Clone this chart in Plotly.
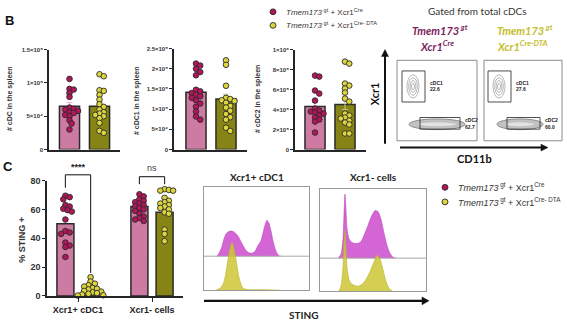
import plotly.graph_objects as go

W, H = 567, 332
FONT = "Liberation Sans, Arial, sans-serif"
CAL = "Lato, Open Sans, sans-serif"

# ---------------- data ----------------
genotypes = ["<i>Tmem173</i><sup> gt</sup> + Xcr1<sup>Cre</sup>",
             "<i>Tmem173</i><sup> gt</sup> + Xcr1<sup>Cre- DTA</sup>"]

# B: numbers of cells in the spleen
cdc_cre = [10.6e4, 9.1e4, 9.0e4, 8.5e4, 7.9e4, 6.3e4, 6.1e4, 6.0e4, 5.8e4, 5.6e4, 5.5e4, 5.2e4, 5.0e4, 4.4e4, 3.9e4, 3.0e4]
cdc_dta = [11.3e4, 11.0e4, 8.9e4, 8.8e4, 8.2e4, 7.5e4, 6.8e4, 6.4e4, 6.0e4, 5.6e4, 5.4e4, 5.2e4, 5.0e4, 4.7e4, 4.0e4, 2.8e4, 2.5e4]
cdc_bar = [6.5e4, 6.5e4]
cdc_sem = [0.55e4, 0.6e4]

cdc1_cre = [21.3e4, 20.8e4, 20.0e4, 19.2e4, 18.4e4, 14.8e4, 14.4e4, 14.0e4, 13.6e4, 13.2e4, 12.8e4, 12.2e4, 11.4e4, 10.6e4, 9.4e4, 8.2e4, 7.4e4]
cdc1_dta = [22.1e4, 21.0e4, 15.8e4, 12.8e4, 12.5e4, 12.2e4, 12.0e4, 11.6e4, 10.8e4, 10.4e4, 9.6e4, 8.8e4, 8.0e4, 7.4e4, 5.4e4, 4.6e4]
cdc1_bar = [1.42e5, 1.25e5]
cdc1_sem = [0.1e5, 0.12e5]

cdc2_cre = [7.4e5, 7.3e5, 5.9e5, 5.6e5, 4.9e5, 4.1e5, 3.9e5, 3.8e5, 3.7e5, 3.6e5, 3.4e5, 3.2e5, 3.0e5, 2.8e5, 1.7e5]
cdc2_dta = [8.8e5, 8.6e5, 6.6e5, 6.4e5, 6.1e5, 5.7e5, 5.1e5, 4.8e5, 3.6e5, 3.4e5, 3.2e5, 3.1e5, 2.9e5, 2.7e5, 2.5e5, 1.6e5, 1.6e5]
cdc2_bar = [4.3e5, 4.5e5]
cdc2_sem = [0.4e5, 0.5e5]

b1_ticks = [0, 5e4, 1e5, 1.5e5]
b1_text = ["0", "5×10⁴", "1×10⁵", "1.5×10⁵"]
b2_ticks = [0, 5e4, 1e5, 1.5e5, 2e5, 2.5e5]
b2_text = ["0", "5×10⁴", "1×10⁵", "1.5×10⁵", "2×10⁵", "2.5×10⁵"]
b3_ticks = [0, 2e5, 4e5, 6e5, 8e5, 1e6]
b3_text = ["0", "2×10⁵", "4×10⁵", "6×10⁵", "8×10⁵", "1×10⁶"]
b_titles = ["# cDC in the spleen", "# cDC1 in the spleen", "# cDC2 in the spleen"]

# C: % STING+
c_categories = ["Xcr1+ cDC1", "Xcr1- cells"]
sting_cdc1_cre = [69.5, 68.5, 67, 63, 62, 60.5, 59.5, 58.5, 53, 45, 44, 43, 37, 35, 34, 27]
sting_cdc1_dta = [13, 10, 8.5, 7.5, 6.5, 5.5, 5, 4.5, 3.5, 3, 2.5, 2, 1.5, 1, 0.5, 0.3]
sting_neg_cre = [70.5, 69, 67, 66, 65, 64, 63, 62, 61, 60, 59, 57, 55, 54, 53, 52]
sting_neg_dta = [74, 73.5, 73, 73, 68, 66, 65, 64, 63, 62, 61, 60, 58, 57, 46, 43, 38]
sting_bar_cre = [50, 62]
sting_bar_dta = [3.5, 58]
c_ticks = [0, 20, 40, 60, 80]
c_signif = ["****", "ns"]

# histograms (STING intensity, count)
h1_cre_x = [13, 15, 18, 20, 22, 24, 27, 30, 33, 36, 39, 42, 45, 48, 51, 54, 57, 59, 61, 63, 65, 67, 69, 71, 73, 75, 77]
h1_cre_y = [0, 3, 10, 18, 23, 25, 26, 25, 22, 17, 11, 6, 3.5, 3, 5, 11, 16, 24, 32, 37, 34, 26, 16, 8, 3, 0.5, 0]
h1_dta_x = [12, 16, 19, 21, 23, 25, 27, 28, 29, 31, 33, 35, 37, 39, 42, 45, 60, 75]
h1_dta_y = [0, 2, 6, 13, 25, 38, 47, 49, 47, 38, 25, 13, 6, 2, 0.8, 0.5, 0.5, 0]
h2_cre_x = [18, 21, 23, 24, 25, 26, 27, 29, 32, 36, 40, 43, 47, 51, 55, 58, 61, 64, 67, 70, 73, 76]
h2_cre_y = [0, 4, 20, 45, 66, 50, 30, 20, 16, 15, 16, 21, 31, 42, 49, 48, 40, 26, 13, 5, 1, 0]
h2_dta_x = [19, 21, 23, 24, 25, 26, 27, 29, 31, 34, 38, 42, 46, 50, 54, 57, 60, 63, 66, 69, 72]
h2_dta_y = [0, 5, 25, 50, 63, 45, 25, 12, 8, 6, 5, 7, 12, 20, 30, 37, 33, 22, 10, 3, 0]
hist_titles = ["Xcr1+ cDC1", "Xcr1- cells"]

# flow gates
flow_cdc1 = ["22.6", "27.6"]
flow_cdc2 = ["62.7", "60.0"]

# ---------------- style ----------------
PINK_BAR, OLIVE_BAR = "#cd7ba2", "#878416"
PINK_DOT, OLIVE_DOT = "#b2165a", "#dcd53e"
EDGE = "#2a2a2a"
MAGENTA = "rgba(208,88,208,0.92)"
YELLOW = "rgba(205,198,52,0.85)"
PURPLE_T, OLIVE_T = "#7b1e5e", "#c4bd2c"

# panel geometry in pixels
PB1 = dict(xd=(49, 120), yd=(46, 149), xr=(-0.683, 1.683), yr=(0, 1.5e5))
PB2 = dict(xd=(174, 247), yd=(45, 149), xr=(-0.733, 1.7), yr=(0, 2.5e5))
PB3 = dict(xd=(295, 366), yd=(46, 149), xr=(-0.667, 1.7), yr=(0, 1e6))
PC = dict(xd=(47, 183), yd=(181, 300), xr=(-0.419, 1.419), yr=(0, 80))
PH1 = dict(xd=(204, 309), yd=(188, 294), xr=(0, 105), yr=(0, 106))
PH2 = dict(xd=(320, 426), yd=(190, 295), xr=(0, 106), yr=(0, 105))
H_OFF = [35, 34]


def dom(p):
    (x0, x1), (y0, y1) = p['xd'], p['yd']
    return [x0 / W, x1 / W], [1 - y1 / H, 1 - y0 / H]


def ppx(p):
    return (p['xd'][1] - p['xd'][0]) / (p['xr'][1] - p['xr'][0])


def ppy(p):
    return (p['yd'][1] - p['yd'][0]) / (p['yr'][1] - p['yr'][0])


def to_px(p, xv, yv):
    return p['xd'][0] + (xv - p['xr'][0]) * ppx(p), p['yd'][1] - (yv - p['yr'][0]) * ppy(p)


def swarm(vals, p, diam=5.6):
    """Place dots side by side (beeswarm) so that they overlap only partly."""
    order = sorted(range(len(vals)), key=lambda i: -vals[i])
    placed, offs = [], [0.0] * len(vals)
    cands = [0.0]
    for n in range(1, 30):
        cands += [n * diam * 0.38, -n * diam * 0.38]
    for i in order:
        y = vals[i] * ppy(p)
        for c in cands:
            if all((c - a) ** 2 + (y - b) ** 2 >= (diam * 0.72) ** 2 for a, b in placed):
                break
        placed.append((c, y))
        offs[i] = c / ppx(p)
    return offs


fig = go.Figure()
layout = {}


def axnames(n):
    return ('x' if n == 1 else f'x{n}'), ('y' if n == 1 else f'y{n}')


def add_axes(n, p, yticks=None, yticktext=None, ytfont=6, xticks=None, xticktext=None, frame=False):
    xd, yd = dom(p)
    xk = 'xaxis' if n == 1 else f'xaxis{n}'
    yk = 'yaxis' if n == 1 else f'yaxis{n}'
    xa, ya = axnames(n)
    if frame:
        common = dict(showline=True, mirror=True, linecolor="#9a9a9a", linewidth=1,
                      showticklabels=False, ticks="", showgrid=False, zeroline=False, fixedrange=True)
        layout[xk] = dict(domain=xd, range=list(p['xr']), anchor=ya, **common)
        layout[yk] = dict(domain=yd, range=list(p['yr']), anchor=xa, **common)
        return
    layout[xk] = dict(domain=xd, range=list(p['xr']), anchor=ya, showline=True, linecolor="#262626",
                      linewidth=1.6, showgrid=False, zeroline=False,
                      ticks="outside" if xticks is not None else "", ticklen=4, tickwidth=1.4, tickcolor="#262626",
                      tickvals=xticks if xticks is not None else [], ticktext=xticktext,
                      showticklabels=xticks is not None,
                      tickfont=dict(family=FONT, size=9, color="#222", weight="bold"))
    layout[yk] = dict(domain=yd, range=list(p['yr']), anchor=xa, showline=True, linecolor="#262626",
                      linewidth=1.6, showgrid=False, zeroline=False, ticks="outside", ticklen=3,
                      tickwidth=1.2, tickcolor="#262626", tickvals=yticks, ticktext=yticktext,
                      tickfont=dict(family=FONT, size=ytfont, color="#333", weight="bold"))


def add_b_panel(n, p, cre, dta, bars, sems, yt, ytt):
    xa, ya = axnames(n)
    add_axes(n, p, yt, ytt)
    for k, (vals, bcol, dcol, ecol) in enumerate([(cre, PINK_BAR, PINK_DOT, "#eab0cc"),
                                                   (dta, OLIVE_BAR, OLIVE_DOT, "#c9c58a")]):
        fig.add_trace(go.Bar(x=[k], y=[bars[k]], width=0.67, xaxis=xa, yaxis=ya, showlegend=False,
                             marker=dict(color=bcol, line=dict(color=EDGE, width=1.5)),
                             error_y=dict(type='data', array=[sems[k]], color=ecol, thickness=1, width=3)))
        offs = swarm(vals, p)
        fig.add_trace(go.Scatter(x=[k + o for o in offs], y=vals, mode='markers', xaxis=xa, yaxis=ya,
                                 showlegend=False, cliponaxis=False,
                                 marker=dict(size=5.6, color=dcol, line=dict(color=EDGE, width=0.9))))


add_b_panel(1, PB1, cdc_cre, cdc_dta, cdc_bar, cdc_sem, b1_ticks, b1_text)
add_b_panel(2, PB2, cdc1_cre, cdc1_dta, cdc1_bar, cdc1_sem, b2_ticks, b2_text)
add_b_panel(3, PB3, cdc2_cre, cdc2_dta, cdc2_bar, cdc2_sem, b3_ticks, b3_text)

# ---- panel C ----
add_axes(4, PC, c_ticks, [str(t) for t in c_ticks], ytfont=9, xticks=[0, 1], xticktext=c_categories)
OFF, BW = 0.17, 0.23
c_groups = [(sting_cdc1_cre, sting_cdc1_dta), (sting_neg_cre, sting_neg_dta)]
fig.add_trace(go.Bar(x=[g - OFF for g in range(2)], y=sting_bar_cre, width=BW, xaxis='x4', yaxis='y4',
                     showlegend=False, marker=dict(color=PINK_BAR, line=dict(color=EDGE, width=1.5))))
fig.add_trace(go.Bar(x=[g + OFF for g in range(2)], y=sting_bar_dta, width=BW, xaxis='x4', yaxis='y4',
                     showlegend=False, marker=dict(color=OLIVE_BAR, line=dict(color=EDGE, width=1.5))))
for g, (cre, dta) in enumerate(c_groups):
    for vals, pos, col in [(cre, g - OFF, PINK_DOT), (dta, g + OFF, OLIVE_DOT)]:
        offs = swarm(vals, PC)
        fig.add_trace(go.Scatter(x=[pos + o for o in offs], y=vals, mode='markers', xaxis='x4', yaxis='y4',
                                 showlegend=False, cliponaxis=False,
                                 marker=dict(size=5.6, color=col, line=dict(color=EDGE, width=0.9))))

# ---- histograms ----
for n, p, off, cx, cy, dx, dy in [(5, PH1, H_OFF[0], h1_cre_x, h1_cre_y, h1_dta_x, h1_dta_y),
                                  (6, PH2, H_OFF[1], h2_cre_x, h2_cre_y, h2_dta_x, h2_dta_y)]:
    add_axes(n, p, frame=True)
    xa, ya = axnames(n)
    fig.add_trace(go.Scatter(x=cx, y=[off + v for v in cy], fill='toself', fillcolor=MAGENTA, mode='lines',
                             line=dict(color="rgba(190,70,190,1)", width=0.6, shape='spline', smoothing=0.6),
                             xaxis=xa, yaxis=ya, showlegend=False))
    fig.add_trace(go.Scatter(x=[p['xr'][0], p['xr'][1]], y=[off, off], mode='lines',
                             line=dict(color="#a8a8a8", width=1), xaxis=xa, yaxis=ya, showlegend=False))
    fig.add_trace(go.Scatter(x=dx, y=dy, fill='toself', fillcolor=YELLOW, mode='lines',
                             line=dict(color="rgba(185,180,40,1)", width=0.6, shape='spline', smoothing=0.6),
                             xaxis=xa, yaxis=ya, showlegend=False))

# ---------------- annotations & shapes ----------------
annots, shapes = [], []


def P(x, y):
    return x / W, 1 - y / H


def ann(x, y, text, size, color="#222", bold=False, italic=False, xanchor='center', angle=0, family=FONT):
    px, py = P(x, y)
    annots.append(dict(x=px, y=py, xref='paper', yref='paper', text=text, showarrow=False,
                       xanchor=xanchor, yanchor='middle', textangle=angle,
                       font=dict(size=size, color=color, family=family,
                                 weight='bold' if bold else 'normal',
                                 style='italic' if italic else 'normal')))


def line(x0, y0, x1, y1, color="#333", width=1.2):
    a, b = P(x0, y0)
    c, d = P(x1, y1)
    shapes.append(dict(type='line', xref='paper', yref='paper', x0=a, y0=b, x1=c, y1=d,
                       line=dict(color=color, width=width)))


def poly(pts, color="#111"):
    path = "M " + " L ".join("%.5f,%.5f" % P(x, y) for x, y in pts) + " Z"
    shapes.append(dict(type='path', xref='paper', yref='paper', path=path,
                       line=dict(color=color, width=0.5), fillcolor=color))


def arrow(x0, y0, x1, y1, width=2, head=6, half=3.5):
    # shaft and a filled head, pointing from (x0, y0) to (x1, y1)
    dx, dy = x1 - x0, y1 - y0
    L = (dx * dx + dy * dy) ** 0.5
    ux, uy = dx / L, dy / L
    bx, by = x1 - ux * head, y1 - uy * head
    line(x0, y0, bx + ux, by + uy, "#111", width)
    poly([(x1, y1), (bx - uy * half, by + ux * half), (bx + uy * half, by - ux * half)])


def rect(x0, y0, x1, y1, color="#222", width=0.8, fill=None):
    a, b = P(x0, y0)
    c, d = P(x1, y1)
    shapes.append(dict(type='rect', xref='paper', yref='paper', x0=a, y0=b, x1=c, y1=d,
                       line=dict(color=color, width=width), fillcolor=fill or 'rgba(0,0,0,0)'))


def ellipse(cx, cy, rx, ry, color="#999", width=0.8, fill=None):
    a, b = P(cx - rx, cy - ry)
    c, d = P(cx + rx, cy + ry)
    shapes.append(dict(type='circle', xref='paper', yref='paper', x0=a, y0=b, x1=c, y1=d,
                       line=dict(color=color, width=width), fillcolor=fill or 'rgba(0,0,0,0)'))


# panel letters
ann(9, 16, "B", 13, "#111", bold=True)
ann(8, 167, "C", 13, "#111", bold=True)

# B y titles
for (x, y), t in zip([(10, 97), (137, 99), (258, 97)], b_titles):
    ann(x, y, t, 7, "#333", bold=True, angle=-90)

# C y title
ann(22, 242, "% STING +", 9, "#333", bold=True, angle=-90)

# legends
for lx, ly, size, gap in [(273, 7, 8, 14), (445, 188, 9, 15)]:
    for k, (txt, col) in enumerate(zip(genotypes, [PINK_DOT, OLIVE_DOT])):
        yy = ly + k * gap
        ellipse(lx, yy, 3, 3, EDGE, 0.9, col)
        ann(lx + 11, yy, txt, size, "#333", xanchor='left')

# significance brackets
xp1, _ = to_px(PC, 0 - OFF, 0)
xo1, _ = to_px(PC, 0 + OFF, 0)
xp2, _ = to_px(PC, 1 - OFF, 0)
xo2, _ = to_px(PC, 1 + OFF, 0)
_, ytop1 = to_px(PC, 0, 84)
_, yl1 = to_px(PC, 0, 75)
_, yr1 = to_px(PC, 0, 16)
_, ytop2 = to_px(PC, 0, 82.7)
_, yb2 = to_px(PC, 0, 77.5)
line(xp1, yl1, xp1, ytop1)
line(xp1, ytop1, xo1, ytop1)
line(xo1, ytop1, xo1, yr1)
line(xp2, yb2, xp2, ytop2)
line(xp2, ytop2, xo2, ytop2)
line(xo2, ytop2, xo2, yb2)
_, ys = to_px(PC, 0, 89.5)
ann((xp1 + xo1) / 2, ys, c_signif[0], 9, "#222", bold=True)
_, ys2 = to_px(PC, 0, 88.5)
ann((xp2 + xo2) / 2, ys2, c_signif[1], 9, "#444")

# histogram titles & STING axis
ann(257, 177, hist_titles[0], 10, "#222", bold=True, family=CAL)
ann(373, 177, hist_titles[1], 10, "#222", bold=True, family=CAL)
arrow(204, 305, 429, 305, 2.2, 7, 4)
ann(303, 320, "STING", 10, "#222", bold=True, family=CAL)

# flow cytometry panel
ann(477, 6, "Gated from total cDCs", 10, "#333", family=CAL)
ann(440, 25, "Tmem173<sup> gt</sup>", 11, PURPLE_T, bold=True, italic=True, family=CAL)
ann(437, 42, "Xcr1<sup>Cre</sup>", 11, PURPLE_T, bold=True, italic=True, family=CAL)
ann(525, 25, "Tmem173<sup> gt</sup>", 11, OLIVE_T, bold=True, italic=True, family=CAL)
ann(522, 42, "Xcr1<sup>Cre-DTA</sup>", 11, OLIVE_T, bold=True, italic=True, family=CAL)
arrow(385, 143, 385, 46, 2, 7, 3.5)
arrow(400, 147, 548, 147, 2, 7, 3.5)
ann(374, 92, "Xcr1", 11, "#111", bold=True, angle=-90, family=CAL)
ann(474, 158, "CD11b", 11, "#111", bold=True, family=CAL)

for k, (bx0, bx1) in enumerate([(397, 477), (484, 562)]):
    rect(bx0, 57, bx1, 140, "#8a8a8a", 1)
    # cDC2 population
    bcx = bx0 + (40 if k == 0 else 36)
    brx = 28 if k == 0 else 23
    ellipse(bcx, 123, brx, 5.5, "#8c8c8c", 1, "#c2c2c2")
    ellipse(bcx, 123, brx - 8, 2.5, "#b0b0b0", 0.6, "#e2e2e2")
    # cDC1 contours
    ccx = bx0 + (16 if k == 0 else 15)
    for rx, ry in [(6, 12), (4.3, 9), (2.8, 6), (1.5, 3.2)]:
        ellipse(ccx, 84, rx, ry, "#9a9a9a", 0.7)
    # gates
    gx = bx0 + (5 if k == 0 else 4)
    rect(gx, 68, gx + 23, 100, "#222", 0.8)
    g2x0 = bx0 + 23
    g2x1 = bx0 + (63 if k == 0 else 56)
    rect(g2x0, 116, g2x1, 128, "#222", 0.8)
    ann(gx + 26, 80, "cDC1", 5, "#222", bold=True, xanchor='left')
    ann(gx + 26, 87, flow_cdc1[k], 5, "#222", bold=True, xanchor='left')
    ann(g2x1 + 3, 119, "cDC2", 5, "#222", bold=True, xanchor='left')
    ann(g2x1 + 3, 126, flow_cdc2[k], 5, "#222", bold=True, xanchor='left')

fig.update_layout(width=W, height=H, autosize=False, margin=dict(l=0, r=0, t=0, b=0, pad=0),
                  paper_bgcolor="white", plot_bgcolor="rgba(0,0,0,0)", barmode='overlay',
                  showlegend=False, font=dict(family=FONT), annotations=annots, shapes=shapes, **layout)

fig.write_html("out.html")
